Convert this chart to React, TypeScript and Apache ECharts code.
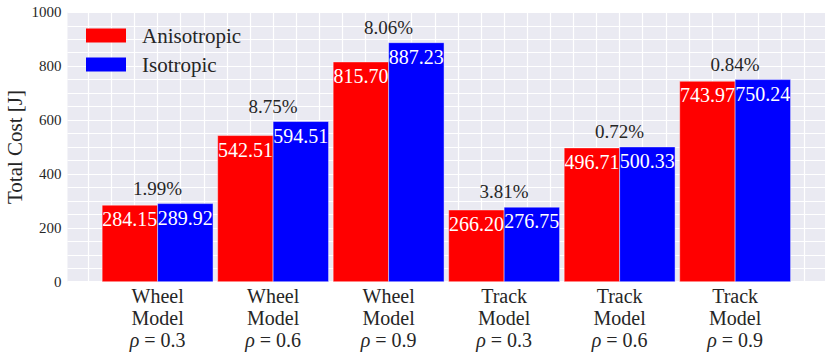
import React, { useEffect, useRef } from 'react';
import * as echarts from 'echarts';

const vehicles = ['Wheel', 'Wheel', 'Wheel', 'Track', 'Track', 'Track'];
const rhos = ['0.3', '0.6', '0.9', '0.3', '0.6', '0.9'];
const anisotropic = [284.15, 542.51, 815.7, 266.2, 496.71, 743.97];
const isotropic = [289.92, 594.51, 887.23, 276.75, 500.33, 750.24];
const diffLabels = ['1.99%', '8.75%', '8.06%', '3.81%', '0.72%', '0.84%'];
const yAxisTitle = 'Total Cost [J]';
const yMax = 1000;
const yLabelStep = 200;

const FONT = 'Liberation Serif';
const TEXT = '#262626';
const BAR_W = 0.48;

function makeBarRender(side: number, color: string, values: number[]) {
  return (params: any, api: any) => {
    const x = api.value(0);
    const y = api.value(1);
    const x0 = side < 0 ? x - BAR_W : x;
    const p0 = api.coord([x0, y]);
    const p1 = api.coord([x0 + BAR_W, 0]);
    return {
      type: 'group',
      children: [
        {
          type: 'rect',
          shape: { x: p0[0], y: p0[1], width: p1[0] - p0[0], height: p1[1] - p0[1] },
          style: { fill: color, stroke: 'rgba(255,255,255,0.55)', lineWidth: 0.8 },
        },
        {
          type: 'text',
          x: (p0[0] + p1[0]) / 2,
          y: p0[1] + 14,
          style: {
            text: values[params.dataIndex].toFixed(2),
            fill: '#ffffff',
            fontFamily: FONT,
            fontSize: 20,
            align: 'center',
            verticalAlign: 'middle',
          },
        },
      ],
    };
  };
}

const legendBase = {
  orient: 'vertical',
  left: 86,
  padding: 0,
  itemWidth: 40,
  itemHeight: 14,
  icon: 'rect',
  textStyle: { fontFamily: FONT, fontSize: 21, color: TEXT, padding: [0, 0, 0, 11] },
};

export default function App() {
  const ref = useRef<HTMLDivElement>(null);
  useEffect(() => {
    if (!ref.current) return;
    document.body.style.margin = '0';
    const chart = echarts.init(ref.current, undefined, { renderer: 'svg' });
    const gridXs = Array.from({ length: 32 }, (_, i) => Math.round((-0.6 + i * 0.2) * 100) / 100);
    const catXs = vehicles.map((_, i) => i);
    chart.setOption({
      animation: false,
      textStyle: { fontFamily: FONT },
      grid: {
        left: 67.5,
        right: 5,
        top: 12.3,
        bottom: 74.3,
        show: true,
        backgroundColor: '#EAEAF2',
        borderWidth: 0,
        outerBoundsMode: 'none',
        containLabel: false,
      },
      graphic: [
        {
          type: 'text',
          x: 14.5,
          y: 147,
          rotation: Math.PI / 2,
          style: {
            text: yAxisTitle,
            fill: TEXT,
            fontFamily: FONT,
            fontSize: 21,
            align: 'center',
            verticalAlign: 'middle',
          },
        },
      ],
      legend: [
        { ...legendBase, top: 25, data: ['Anisotropic'] },
        { ...legendBase, top: 54, data: ['Isotropic'] },
      ],
      xAxis: {
        type: 'value',
        min: -0.78,
        max: 5.778,
        axisLine: { show: false },
        axisTick: { show: false, customValues: gridXs },
        splitLine: { show: true, lineStyle: { color: '#ffffff', width: 1.2 } },
        axisLabel: {
          customValues: catXs,
          margin: 3,
          fontFamily: FONT,
          formatter: (v: number) => {
            const i = Math.round(v);
            return `{a|${vehicles[i]}}\n{a|Model}\n{i|ρ}{a| = ${rhos[i]}}`;
          },
          rich: {
            a: { fontFamily: FONT, fontSize: 20, color: TEXT, lineHeight: 22 },
            i: { fontFamily: FONT, fontSize: 20, color: TEXT, lineHeight: 22, fontStyle: 'italic' },
          },
        },
      },
      yAxis: {
        type: 'value',
        min: 0,
        max: yMax,
        interval: 50,
        axisLine: { show: false },
        axisTick: { show: false },
        splitLine: { show: true, lineStyle: { color: '#ffffff', width: 1.2 } },
        axisLabel: {
          margin: 6,
          fontFamily: FONT,
          fontSize: 15,
          color: TEXT,
          formatter: (v: number) => (v % yLabelStep === 0 ? String(v) : ''),
        },
      },
      series: [
        {
          name: 'Anisotropic',
          type: 'custom',
          itemStyle: { color: '#ff0000' },
          encode: { x: 0, y: 1 },
          data: anisotropic.map((v, i) => [i, v]),
          renderItem: makeBarRender(-1, '#ff0000', anisotropic),
          z: 3,
        },
        {
          name: 'Isotropic',
          type: 'custom',
          itemStyle: { color: '#0000ff' },
          encode: { x: 0, y: 1 },
          data: isotropic.map((v, i) => [i, v]),
          renderItem: makeBarRender(1, '#0000ff', isotropic),
          z: 3,
        },
        {
          name: 'diff',
          type: 'custom',
          encode: { x: 0, y: 1 },
          data: anisotropic.map((v, i) => [i, Math.max(v, isotropic[i])]),
          renderItem: (params: any, api: any) => {
            const p = api.coord([api.value(0), api.value(1)]);
            return {
              type: 'text',
              x: p[0],
              y: p[1] - 15.5,
              style: {
                text: diffLabels[params.dataIndex],
                fill: TEXT,
                fontFamily: FONT,
                fontSize: 19,
                align: 'center',
                verticalAlign: 'middle',
              },
            };
          },
          z: 4,
        },
      ],
    });
    return () => chart.dispose();
  }, []);
  return <div ref={ref} style={{ position: 'absolute', left: 0, top: 0, width: 830, height: 356 }} />;
}
